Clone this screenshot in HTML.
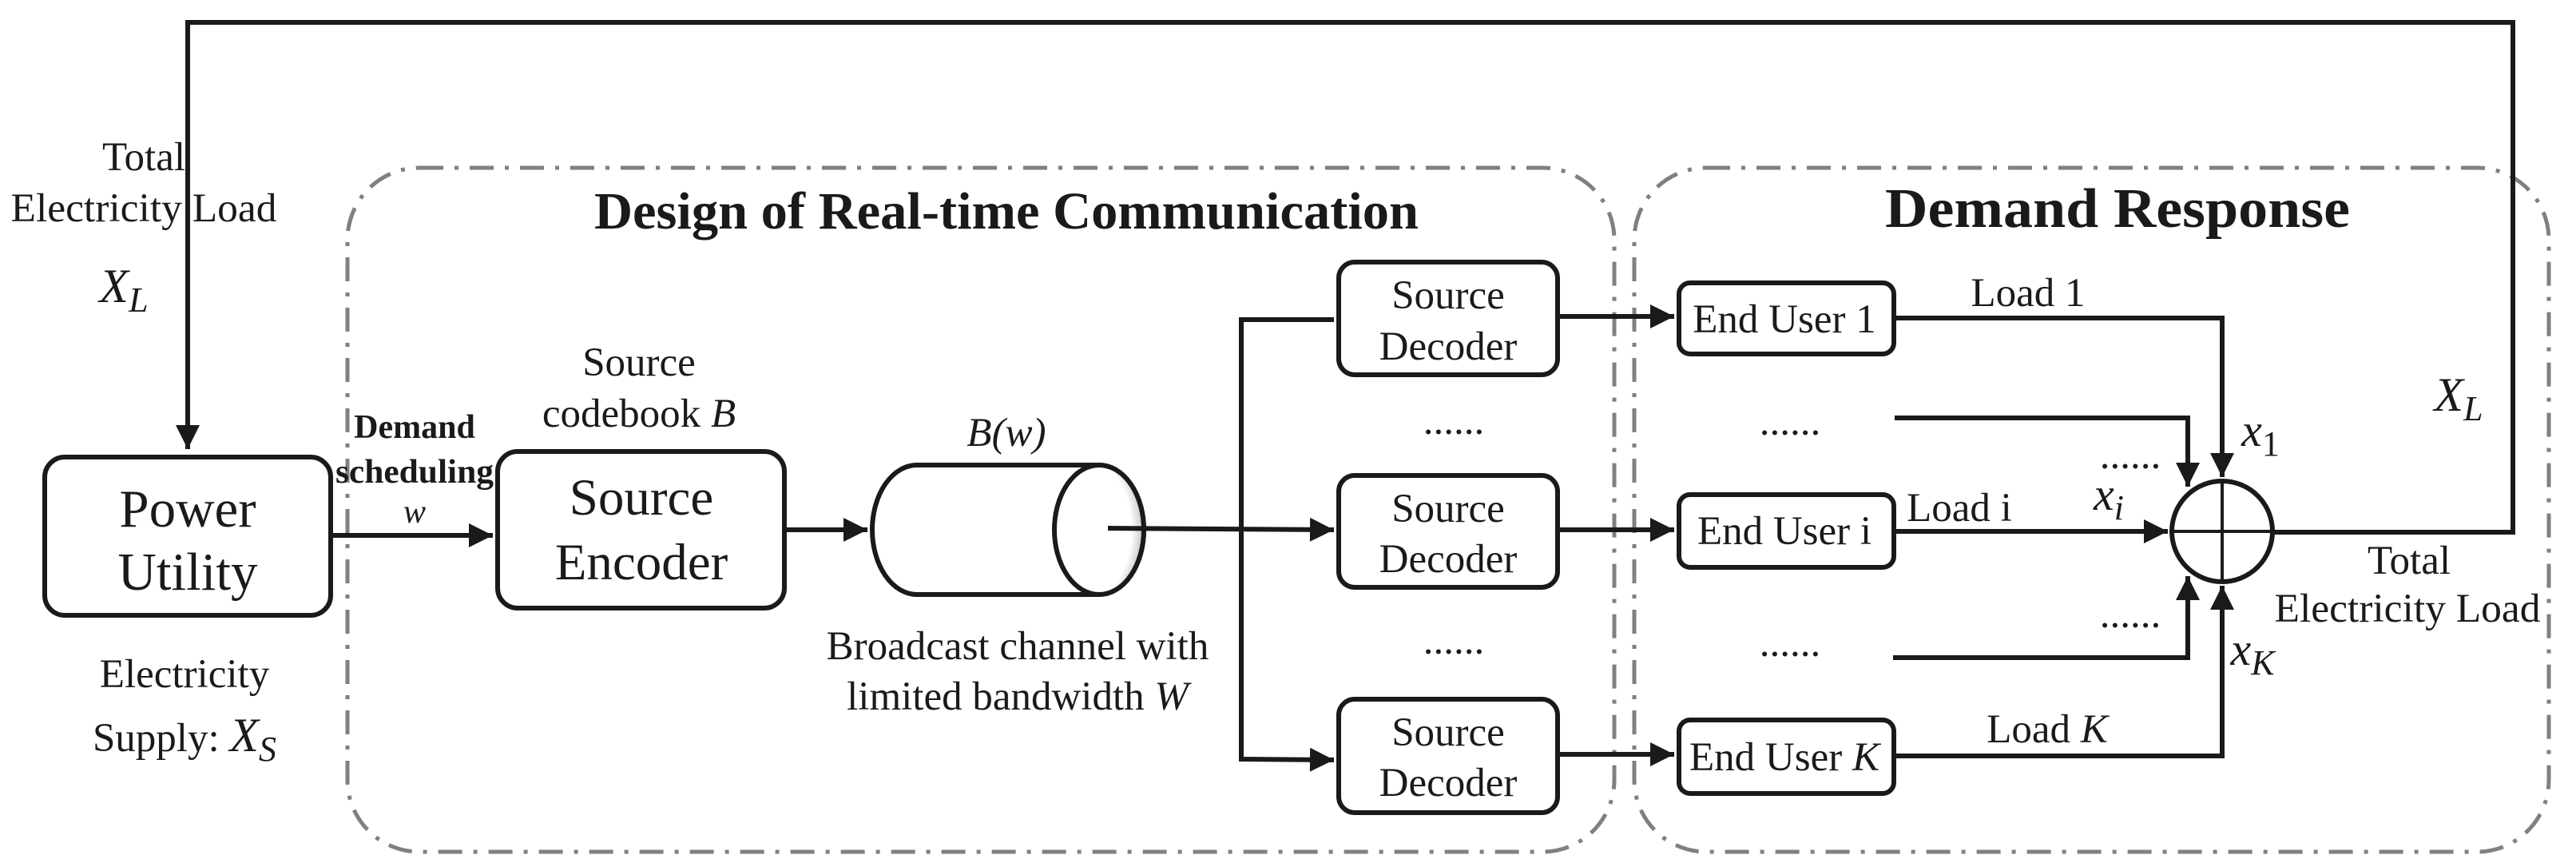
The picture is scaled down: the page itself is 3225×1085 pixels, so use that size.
<!DOCTYPE html>
<html><head><meta charset="utf-8"><style>
html,body{margin:0;padding:0;background:#fff;}
svg{display:block;}
text{font-family:"Liberation Serif",serif;fill:#1a1a1a;}
</style></head><body>
<svg width="3225" height="1085" viewBox="0 0 3225 1085" xmlns="http://www.w3.org/2000/svg">
<defs>
<marker id="ar" viewBox="0 0 10 10" refX="10" refY="5" markerWidth="6" markerHeight="5" markerUnits="strokeWidth" orient="auto">
<path d="M0,0 L10,5 L0,10 z" fill="#1a1a1a"/></marker>
<radialGradient id="sh" cx="0.3" cy="0.5" r="0.8"><stop offset="0.7" stop-color="#fff"/><stop offset="1" stop-color="#999"/></radialGradient>
</defs>
<g fill="none" stroke="#808080" stroke-width="5" stroke-dasharray="30 14 5 14">
<rect x="435" y="210" width="1586" height="856" rx="90"/>
<rect x="2046" y="210" width="1145" height="856" rx="90"/>
</g>
<g fill="none" stroke="#1a1a1a" stroke-width="6">
<polyline points="2845,666 3146,666 3146,28 235,28 235,562" marker-end="url(#ar)"/>
<rect x="56" y="572" width="358" height="198" rx="25"/>
<rect x="623" y="565" width="359" height="196" rx="25"/>
<line x1="414" y1="670" x2="617" y2="670" marker-end="url(#ar)"/>
<line x1="982" y1="663" x2="1086" y2="663" marker-end="url(#ar)"/>
<path d="M1148,582 L1376,582 A56,81 0 0 1 1376,744 L1148,744 A56,81 0 0 1 1148,582 z" fill="#fff"/>
<ellipse cx="1376" cy="663" rx="56" ry="81" fill="url(#sh)"/>
<line x1="1387" y1="661" x2="1670" y2="663" marker-end="url(#ar)"/>
<polyline points="1670,400 1554,400 1554,950 1670,951" marker-end="url(#ar)"/>
<rect x="1676" y="328" width="274" height="141" rx="20"/>
<rect x="1676" y="595" width="274" height="140" rx="20"/>
<rect x="1676" y="875" width="274" height="142" rx="20"/>
<line x1="1950" y1="396" x2="2096" y2="396" marker-end="url(#ar)"/>
<line x1="1950" y1="663" x2="2096" y2="663" marker-end="url(#ar)"/>
<line x1="1950" y1="944" x2="2096" y2="944" marker-end="url(#ar)"/>
<rect x="2102" y="354" width="269" height="89" rx="14"/>
<rect x="2102" y="619" width="269" height="91" rx="14"/>
<rect x="2102" y="901" width="269" height="92" rx="14"/>
<polyline points="2371,398 2782,398 2782,597" marker-end="url(#ar)"/>
<polyline points="2372,523 2739,523 2739,609" marker-end="url(#ar)"/>
<line x1="2372" y1="665" x2="2714" y2="665" marker-end="url(#ar)"/>
<polyline points="2370,823 2739,823 2739,721" marker-end="url(#ar)"/>
<polyline points="2371,946 2782,946 2782,733" marker-end="url(#ar)"/>
<circle cx="2782" cy="665" r="63"/>
<line x1="2719" y1="665" x2="2845" y2="665" stroke-width="4"/>
<line x1="2782" y1="602" x2="2782" y2="728" stroke-width="4"/>
</g>
<g font-size="51" text-anchor="middle">
<text x="180" y="213">Total</text>
<text x="180" y="277" textLength="333" lengthAdjust="spacingAndGlyphs">Electricity Load</text>
<text x="155" y="378" font-style="italic" font-size="60">X<tspan font-size="44" dy="12">L</tspan></text>
<text x="235" y="659" font-size="67">Power</text>
<text x="235" y="738" font-size="67">Utility</text>
<text x="231" y="860">Electricity</text>
<text x="231" y="940">Supply: <tspan font-style="italic" font-size="60">X</tspan><tspan font-style="italic" font-size="44" dy="12">S</tspan></text>
<text x="519" y="548" font-weight="bold" font-size="42">Demand</text>
<text x="519" y="604" font-weight="bold" font-size="42" textLength="198" lengthAdjust="spacingAndGlyphs">scheduling</text>
<text x="519" y="654" font-style="italic" font-size="42">w</text>
<text x="800" y="470">Source</text>
<text x="800" y="534">codebook <tspan font-style="italic">B</tspan></text>
<text x="803" y="644" font-size="65">Source</text>
<text x="803" y="725" font-size="65">Encoder</text>
<text x="1260" y="558" font-style="italic">B(w)</text>
<text x="1274" y="825">Broadcast channel with</text>
<text x="1274" y="888">limited bandwidth <tspan font-style="italic">W</tspan></text>
<text x="1260" y="286" font-weight="bold" font-size="66" textLength="1032" lengthAdjust="spacingAndGlyphs">Design of Real-time Communication</text>
<text x="2651" y="284" font-weight="bold" font-size="70" textLength="582" lengthAdjust="spacingAndGlyphs">Demand Response</text>
<text x="1813" y="386">Source</text><text x="1813" y="450">Decoder</text>
<text x="1813" y="653">Source</text><text x="1813" y="716">Decoder</text>
<text x="1813" y="933">Source</text><text x="1813" y="996">Decoder</text>
<text x="1820" y="543">......</text>
<text x="1820" y="818">......</text>
<text x="2234" y="416">End User 1</text>
<text x="2234" y="681">End User i</text>
<text x="2234" y="964">End User <tspan font-style="italic">K</tspan></text>
<text x="2241" y="544">......</text>
<text x="2241" y="821">......</text>
<text x="2667" y="586">......</text>
<text x="2667" y="785">......</text>
<text x="2539" y="383">Load 1</text>
<text x="2453" y="652">Load i</text>
<text x="2563" y="929">Load <tspan font-style="italic">K</tspan></text>
<text x="2830" y="558" font-style="italic" font-size="58">x<tspan font-size="44" dy="12" font-style="normal">1</tspan></text>
<text x="2640" y="638" font-style="italic" font-size="58">x<tspan font-size="44" dy="12">i</tspan></text>
<text x="2820" y="832" font-style="italic" font-size="58">x<tspan font-size="44" dy="12">K</tspan></text>
<text x="3078" y="514" font-style="italic" font-size="60">X<tspan font-size="44" dy="12">L</tspan></text>
<text x="3016" y="718">Total</text>
<text x="3014" y="778" textLength="333" lengthAdjust="spacingAndGlyphs">Electricity Load</text>
</g>
</svg>
</body></html>
